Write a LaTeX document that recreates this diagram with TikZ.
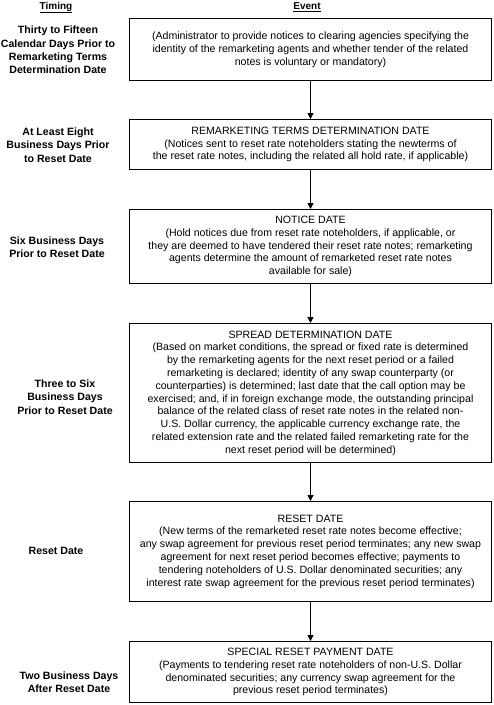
\documentclass[tikz,border=0pt]{standalone}
\usepackage{fontspec}
\setmainfont{Liberation Sans}
\usetikzlibrary{arrows.meta}
\begin{document}
\begin{tikzpicture}[x=1pt,y=-1pt,
  evbox/.style={draw,line width=1pt,anchor=north,minimum width=362pt,inner sep=0pt,
     align=center,font=\fontsize{10.6}{12.8}\selectfont},
  tlabel/.style={align=center,font=\fontsize{10.6}{13.3}\selectfont\bfseries},
  head/.style={font=\fontsize{10}{11}\selectfont\bfseries},
  flow/.style={line width=1pt,-{Triangle[length=6pt,width=6pt]}}]
\useasboundingbox (0,0) rectangle (494,705);
\node[head] (ht) at (56,7.5) {\underline{Timing}};
\node[head] (he) at (307,7.5) {\underline{Event}};
\node[evbox,minimum height=62pt] (b1) at (310.5,18) {(Administrator to provide notices to clearing agencies specifying the\\identity of the remarketing agents and whether tender of the related\\notes is voluntary or mandatory)};
\node[evbox,minimum height=50pt] (b2) at (310.5,119) {REMARKETING TERMS DETERMINATION DATE\\(Notices sent to reset rate noteholders stating the newterms of\\the reset rate notes, including the related all hold rate, if applicable)};
\node[evbox,minimum height=74pt] (b3) at (310.5,209) {NOTICE DATE\\(Hold notices due from reset rate noteholders, if applicable, or\\they are deemed to have tendered their reset rate notes; remarketing\\agents determine the amount of remarketed reset rate notes\\available for sale)};
\node[evbox,minimum height=139pt] (b4) at (310.5,323) {SPREAD DETERMINATION DATE\\(Based on market conditions, the spread or fixed rate is determined\\by the remarketing agents for the next reset period or a failed\\remarketing is declared; identity of any swap counterparty (or\\counterparties) is determined; last date that the call option may be\\exercised; and, if in foreign exchange mode, the outstanding principal\\balance of the related class of reset rate notes in the related non-\\U.S. Dollar currency, the applicable currency exchange rate, the\\related extension rate and the related failed remarketing rate for the\\next reset period will be determined)};
\node[evbox,minimum height=100pt] (b5) at (310.5,501) {RESET DATE\\(New terms of the remarketed reset rate notes become effective;\\any swap agreement for previous reset period terminates; any new swap\\agreement for next reset period becomes effective; payments to\\tendering noteholders of U.S. Dollar denominated securities; any\\interest rate swap agreement for the previous reset period terminates)};
\node[evbox,minimum height=61pt] (b6) at (310.5,641) {SPECIAL RESET PAYMENT DATE\\(Payments to tendering reset rate noteholders of non-U.S. Dollar\\denominated securities; any currency swap agreement for the\\previous reset period terminates)};
\node[tlabel] (t1) at (58,50) {Thirty to Fifteen\\Calendar Days Prior to\\Remarketing Terms\\Determination Date};
\node[tlabel] (t2) at (58,145) {At Least Eight\\Business Days Prior\\to Reset Date};
\node[tlabel] (t3) at (57,247) {Six Business Days\\Prior to Reset Date};
\node[tlabel] (t4) at (65,397) {Three to Six\\Business Days\\Prior to Reset Date};
\node[tlabel] (t5) at (56,551) {Reset Date};
\node[tlabel] (t6) at (69,682) {Two Business Days\\After Reset Date};
\draw[flow] (b1) -- (b2);
\draw[flow] (b2) -- (b3);
\draw[flow] (b3) -- (b4);
\draw[flow] (b4) -- (b5);
\draw[flow] (b5) -- (b6);
\end{tikzpicture}
\end{document}
